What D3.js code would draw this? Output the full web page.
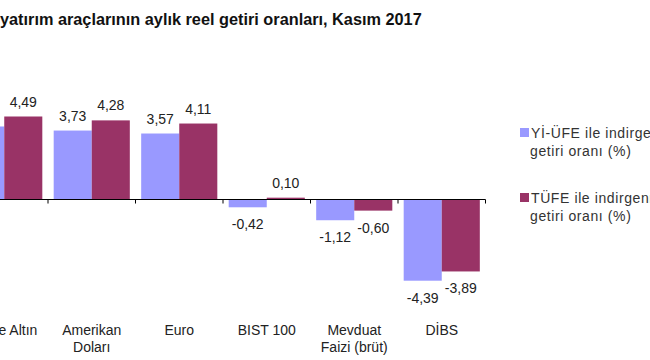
<!DOCTYPE html>
<html><head><meta charset="utf-8">
<script src="https://cdn.jsdelivr.net/npm/d3@7"></script>
<style>html,body{margin:0;padding:0;background:#fff;overflow:hidden}</style>
</head><body>
<svg id="c" width="650" height="360"></svg>
<script>
const title = "yatırım araçlarının aylık reel getiri oranları, Kasım 2017";
const categories = [["Külçe Altın"], ["Amerikan", "Doları"], ["Euro"], ["BIST 100"], ["Mevduat", "Faizi (brüt)"], ["DİBS"]];
const seriesNames = [["Yİ-ÜFE ile indirgenmiş", "getiri oranı (%)"], ["TÜFE ile indirgenmiş", "getiri oranı (%)"]];
const yiufe = [3.95, 3.73, 3.57, -0.42, -1.12, -4.39];
const tufe = [4.49, 4.28, 4.11, 0.10, -0.60, -3.89];
const colors = ["#9999ff", "#993366"];

const svg = d3.select("#c");
const font = "'Liberation Sans', Arial, sans-serif";
const idx = d3.range(categories.length);

const x = d3.scaleBand().domain(idx).range([-39.5, 485.5]).paddingInner(0.13).paddingOuter(0.065);
const xs = d3.scaleBand().domain([0, 1]).range([0, x.bandwidth()]);
const y = d3.scaleLinear().domain([-4.39, 4.49]).range([280.7, 116.5]);
const series = [yiufe, tufe];
const fmt = d => d3.format(".2f")(d).replace(".", ",").replace("\u2212", "-");

svg.append("text").attr("x", 0).attr("y", 25).attr("font-family", font).attr("font-weight", "bold")
  .attr("font-size", 16.3).attr("fill", "#111").text(title);

series.forEach((vals, s) => {
  svg.append("g").selectAll("rect").data(vals).join("rect")
    .attr("x", (d, i) => x(i) + xs(s))
    .attr("width", xs.bandwidth())
    .attr("y", d => y(Math.max(0, d)))
    .attr("height", d => Math.abs(y(d) - y(0)))
    .attr("fill", colors[s]);
  svg.append("g").selectAll("text").data(vals).join("text")
    .attr("x", (d, i) => x(i) + xs(s) + xs.bandwidth() / 2)
    .attr("y", d => d >= 0 ? y(d) - 10 : y(d) + 22)
    .attr("text-anchor", "middle").attr("font-family", font).attr("font-size", 14).attr("fill", "#222")
    .text(fmt);
});

// axis
const axis = svg.append("g").attr("transform", `translate(0,${y(0)})`);
axis.append("line").attr("x1", x.range()[0]).attr("x2", x.range()[1]).attr("stroke", "#000").attr("stroke-width", 1.2);
const bounds = idx.map(i => x(i) - x.step() * x.paddingInner() / 2).concat([x.range()[1]]);
axis.selectAll("line.t").data(bounds).join("line").attr("class", "t")
  .attr("x1", d => d).attr("x2", d => d).attr("y1", 0).attr("y2", 4).attr("stroke", "#000");

// category labels
categories.forEach((lines, i) => {
  const t = svg.append("text").attr("text-anchor", "middle").attr("font-family", font).attr("font-size", 14).attr("fill", "#222");
  lines.forEach((l, j) => t.append("tspan").attr("x", x(i) + x.bandwidth() / 2).attr("y", 335 + j * 17).text(l));
});

// legend
const legY = [128, 193];
seriesNames.forEach((lines, s) => {
  svg.append("rect").attr("x", 520).attr("y", legY[s]).attr("width", 9).attr("height", 9).attr("fill", colors[s]);
  const t = svg.append("text").attr("font-family", font).attr("font-size", 14).attr("letter-spacing", 0.6).attr("fill", "#333");
  t.append("tspan").attr("x", 531).attr("y", legY[s] + 10).text(lines[0]);
  t.append("tspan").attr("x", 530).attr("y", legY[s] + 28).text(lines[1]);
});
</script>
</body></html>
